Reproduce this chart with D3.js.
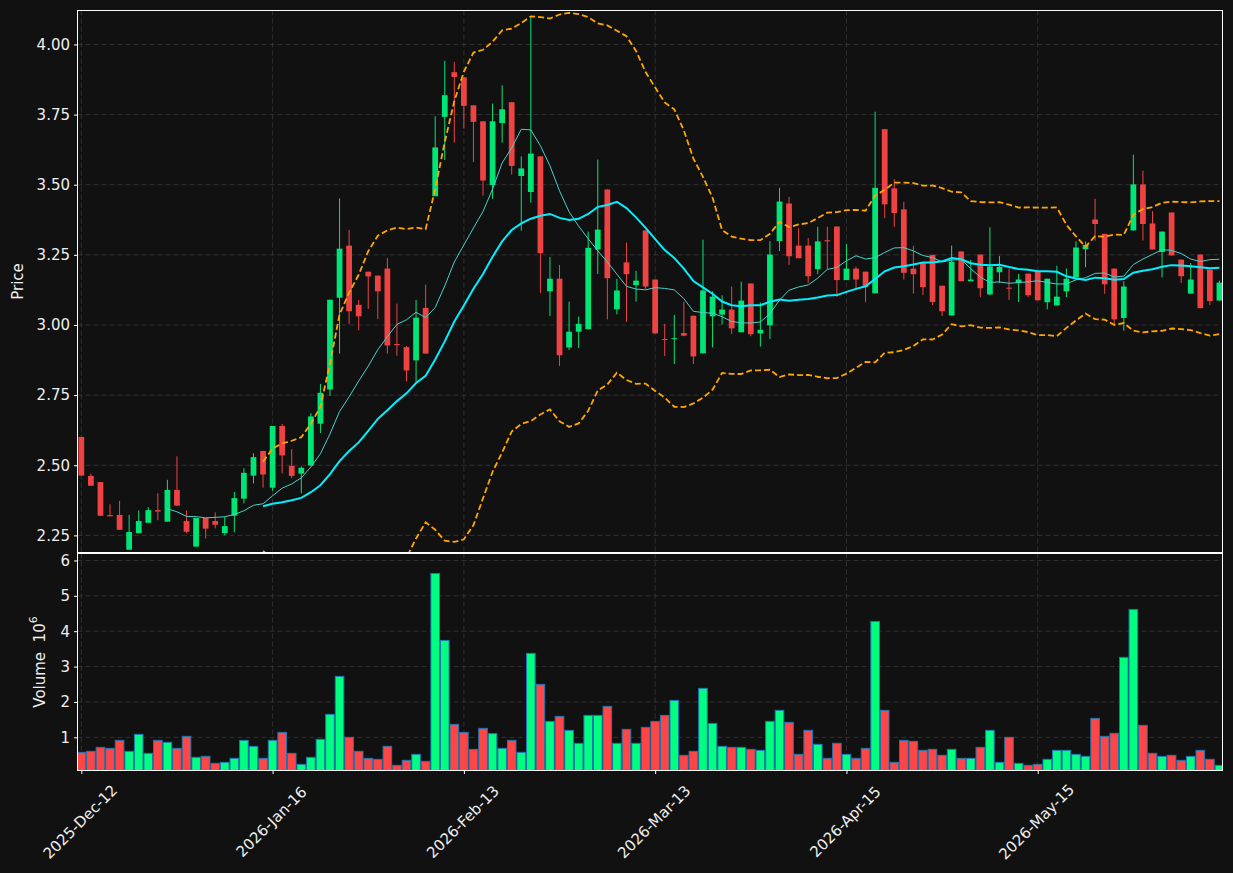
<!DOCTYPE html>
<html>
<head>
<meta charset="utf-8">
<script src="https://cdn.jsdelivr.net/npm/d3@7"></script>
<style>
  body { margin: 0; background: #111111; }
  svg { display: block; font-family: "DejaVu Sans", sans-serif; }
</style>
</head>
<body>
<div class="container"></div>
<script>
// OHLC + volume (volume in units of 10^6), one entry per trading day
const opens = [2.601,2.462,2.440,2.322,2.323,2.199,2.258,2.295,2.340,2.299,
  2.412,2.301,2.210,2.312,2.301,2.258,2.320,2.381,2.463,2.551,
  2.420,2.640,2.498,2.470,2.499,2.648,2.770,3.097,3.283,3.072,
  3.190,3.176,3.201,2.932,2.921,2.874,3.061,3.459,3.742,3.901,
  3.883,3.783,3.726,3.499,3.720,3.794,3.531,3.474,3.601,3.120,
  3.165,2.920,2.976,2.985,3.269,3.483,3.056,3.223,3.142,3.337,
  3.162,2.950,2.950,2.971,3.033,2.899,3.031,3.037,3.055,2.974,
  3.148,2.970,2.999,3.299,3.433,3.283,3.283,3.199,3.302,3.351,
  3.160,3.201,3.190,3.113,3.698,3.487,3.412,3.201,3.223,3.250,
  3.140,3.034,3.262,3.156,3.251,3.109,3.188,3.133,3.150,3.183,
  3.190,3.081,3.070,3.120,3.170,3.270,3.376,3.325,3.201,3.025,
  3.337,3.501,3.362,3.260,3.401,3.233,3.112,3.251,3.198,3.087];
const highs = [2.601,2.470,2.440,2.361,2.373,2.323,2.339,2.351,2.400,2.448,
  2.532,2.339,2.312,2.312,2.332,2.315,2.405,2.489,2.543,2.551,
  2.640,2.647,2.557,2.496,2.686,2.790,3.090,3.451,3.339,3.089,
  3.190,3.176,3.239,3.076,2.925,3.089,3.144,3.744,3.942,3.938,
  3.883,3.783,3.726,3.789,3.854,3.794,3.601,4.097,3.601,3.242,
  3.214,3.083,3.030,3.333,3.590,3.483,3.164,3.294,3.193,3.337,
  3.162,3.004,3.036,3.083,3.033,3.304,3.120,3.106,3.137,3.154,
  3.148,3.080,3.299,3.489,3.456,3.345,3.310,3.350,3.350,3.351,
  3.288,3.208,3.190,3.760,3.698,3.520,3.439,3.282,3.223,3.250,
  3.140,3.283,3.262,3.232,3.251,3.348,3.246,3.201,3.182,3.183,
  3.190,3.165,3.211,3.201,3.298,3.298,3.450,3.325,3.201,3.156,
  3.607,3.550,3.406,3.333,3.401,3.233,3.221,3.251,3.198,3.158];
const lows = [2.463,2.427,2.320,2.318,2.270,2.199,2.258,2.295,2.304,2.299,
  2.356,2.258,2.210,2.239,2.275,2.250,2.261,2.364,2.435,2.420,
  2.409,2.471,2.454,2.400,2.499,2.615,2.747,2.898,3.003,2.981,
  3.057,3.021,2.898,2.890,2.799,2.796,2.898,3.459,3.588,3.650,
  3.700,3.581,3.461,3.450,3.650,3.536,3.336,3.436,3.114,3.032,
  2.854,2.911,2.918,2.985,3.182,3.020,3.038,3.011,3.083,3.129,
  2.970,2.889,2.861,2.960,2.861,2.899,2.920,3.002,2.968,2.974,
  2.960,2.923,2.950,3.263,3.214,3.238,3.150,3.182,3.198,3.100,
  3.160,3.123,3.081,3.113,3.381,3.349,3.162,3.112,3.107,3.071,
  3.032,3.034,3.156,3.156,3.099,3.106,3.150,3.089,3.082,3.099,
  3.088,3.056,3.070,3.099,3.170,3.206,3.301,3.111,2.996,2.980,
  3.337,3.301,3.269,3.170,3.248,3.150,3.112,3.060,3.071,3.087];
const closes = [2.463,2.427,2.320,2.318,2.270,2.262,2.301,2.340,2.335,2.412,
  2.356,2.263,2.312,2.274,2.288,2.283,2.383,2.473,2.529,2.467,
  2.640,2.535,2.462,2.491,2.674,2.758,3.090,3.272,3.049,3.031,
  3.173,3.120,2.927,2.928,2.838,3.026,2.898,3.633,3.819,3.884,
  3.781,3.724,3.515,3.726,3.769,3.567,3.558,3.611,3.256,3.165,
  2.892,2.976,3.004,3.275,3.340,3.167,3.123,3.181,3.158,3.137,
  2.970,2.948,2.953,2.962,2.888,3.123,3.101,3.055,2.988,3.087,
  2.967,2.983,3.251,3.440,3.245,3.238,3.174,3.298,3.298,3.160,
  3.201,3.162,3.135,3.489,3.430,3.399,3.186,3.181,3.135,3.082,
  3.049,3.225,3.156,3.162,3.131,3.208,3.207,3.131,3.162,3.106,
  3.088,3.165,3.101,3.165,3.276,3.285,3.360,3.145,3.020,3.137,
  3.501,3.360,3.269,3.333,3.248,3.174,3.162,3.060,3.085,3.151];
const volumes = [0.576,0.605,0.717,0.689,0.915,0.605,1.085,0.548,0.915,0.859,
  0.689,1.028,0.435,0.463,0.266,0.294,0.407,0.915,0.746,0.407,
  0.915,1.141,0.548,0.237,0.435,0.944,1.650,2.723,1.000,0.605,
  0.407,0.379,0.746,0.209,0.350,0.520,0.322,5.633,3.740,1.367,
  1.141,0.661,1.254,1.104,0.689,0.915,0.576,3.373,2.497,1.452,
  1.593,1.198,0.831,1.621,1.621,1.876,0.831,1.226,0.831,1.282,
  1.452,1.621,2.045,0.492,0.605,2.384,1.395,0.746,0.717,0.717,
  0.661,0.633,1.452,1.763,1.424,0.520,1.198,0.802,0.407,0.831,
  0.520,0.407,0.689,4.277,1.763,0.294,0.915,0.887,0.633,0.661,
  0.492,0.661,0.407,0.407,0.717,1.198,0.294,1.000,0.266,0.209,
  0.237,0.379,0.633,0.633,0.520,0.463,1.537,1.028,1.113,3.260,
  4.616,1.339,0.548,0.463,0.492,0.350,0.463,0.633,0.379,0.209];

const tickIndex = [0, 20, 40, 60, 80, 100];
const tickLabels = ["2025-Dec-12", "2026-Jan-16", "2026-Feb-13", "2026-Mar-13", "2026-Apr-15", "2026-May-15"];
const priceTicks = [2.25, 2.50, 2.75, 3.00, 3.25, 3.50, 3.75, 4.00];
const volumeTicks = [1, 2, 3, 4, 5, 6];

const width = 1233, height = 873;
const left = 77.5, right = 1222.5;
const pTop = 10.5, pBottom = 552.5, vTop = 553.5, vBottom = 770.5;

const upCol = "#00e676", downCol = "#ef4343";
const volUp = "#00ff80", volDown = "#ff4646", volEdge = "#1f77b4";
const gridCol = "#3a3a3a", textCol = "#eeeeee";
const fs = 15;

const idx = d3.range(closes.length);

const x = d3.scaleLinear().domain([-0.4, 119.32]).range([left, right]);
const y = d3.scaleLinear().domain([2.189, 4.121]).range([pBottom, pTop]);
const yv = d3.scaleLinear()
  .domain([0.3 * d3.min(volumes), 1.1 * d3.max(volumes)])
  .range([vBottom, vTop]);
const step = x(1) - x(0);

// moving averages and bands from closes (population std)
function rolling(n, fn) {
  return closes.map((c, i) => i < n - 1 ? null : fn(closes.slice(i - n + 1, i + 1)));
}
const pstd = a => { const m = d3.mean(a); return Math.sqrt(d3.mean(a, v => (v - m) * (v - m))); };
const ma10 = rolling(10, d3.mean);
const ma20 = rolling(20, d3.mean);
const sd20 = rolling(20, pstd);
const upper = ma20.map((m, i) => m == null ? null : m + 2 * sd20[i]);
const lower = ma20.map((m, i) => m == null ? null : m - 2 * sd20[i]);

const svg = d3.select(".container").append("svg")
  .attr("width", width)
  .attr("height", height)
  .attr("viewBox", [0, 0, width, height]);

svg.append("rect").attr("width", width).attr("height", height).attr("fill", "#111111");

const defs = svg.append("defs");
defs.append("clipPath").attr("id", "clipP")
  .append("rect").attr("x", left).attr("y", pTop).attr("width", right - left).attr("height", pBottom - pTop);
defs.append("clipPath").attr("id", "clipV")
  .append("rect").attr("x", left).attr("y", vTop).attr("width", right - left).attr("height", vBottom - vTop);

// grids
const gp = svg.append("g").attr("stroke", gridCol).attr("stroke-width", 0.8).attr("stroke-dasharray", "5,3");
gp.append("g").call(g => g.selectAll("line").data(priceTicks).join("line")
  .attr("x1", left).attr("x2", right).attr("y1", d => y(d)).attr("y2", d => y(d)));
gp.append("g").call(g => g.selectAll("line").data(tickIndex).join("line")
  .attr("x1", d => x(d)).attr("x2", d => x(d)).attr("y1", pTop).attr("y2", pBottom));
gp.append("g").call(g => g.selectAll("line").data(volumeTicks).join("line")
  .attr("x1", left).attr("x2", right).attr("y1", d => yv(d)).attr("y2", d => yv(d)));
gp.append("g").call(g => g.selectAll("line").data(tickIndex).join("line")
  .attr("x1", d => x(d)).attr("x2", d => x(d)).attr("y1", vTop).attr("y2", vBottom));

// candles
const candles = svg.append("g").attr("clip-path", "url(#clipP)");
const bw = step * 0.6;
candles.selectAll("line").data(idx).join("line")
  .attr("x1", i => x(i)).attr("x2", i => x(i))
  .attr("y1", i => y(highs[i])).attr("y2", i => y(lows[i]))
  .attr("stroke", i => closes[i] >= opens[i] ? upCol : downCol)
  .attr("stroke-width", 1);
candles.selectAll("rect").data(idx).join("rect")
  .attr("x", i => x(i) - bw / 2)
  .attr("width", bw)
  .attr("y", i => y(Math.max(opens[i], closes[i])))
  .attr("height", i => Math.max(1, Math.abs(y(opens[i]) - y(closes[i]))))
  .attr("fill", i => closes[i] >= opens[i] ? upCol : downCol);

// overlays
const line = d3.line().defined(d => d[1] != null).x(d => x(d[0])).y(d => y(d[1]));
const lines = svg.append("g").attr("clip-path", "url(#clipP)").attr("fill", "none");
lines.append("path").attr("d", line(upper.map((v, i) => [i, v])))
  .attr("stroke", "#ffa500").attr("stroke-width", 1.8).attr("stroke-dasharray", "6,3");
lines.append("path").attr("d", line(lower.map((v, i) => [i, v])))
  .attr("stroke", "#ffa500").attr("stroke-width", 1.8).attr("stroke-dasharray", "6,3");
lines.append("path").attr("d", line(ma10.map((v, i) => [i, v])))
  .attr("stroke", "#48d1cc").attr("stroke-width", 1);
lines.append("path").attr("d", line(ma20.map((v, i) => [i, v])))
  .attr("stroke", "#00f0ff").attr("stroke-width", 2);

// volume
const vbw = step * 0.9;
svg.append("g").attr("clip-path", "url(#clipV)")
  .selectAll("rect").data(idx).join("rect")
  .attr("x", i => x(i) - vbw / 2)
  .attr("width", vbw)
  .attr("y", i => yv(volumes[i]))
  .attr("height", i => yv.range()[0] - yv(volumes[i]) + 2)
  .attr("fill", i => closes[i] >= opens[i] ? volUp : volDown)
  .attr("stroke", volEdge)
  .attr("stroke-width", 1);

// frames
[[pTop, pBottom], [vTop, vBottom]].forEach(([t, b]) => {
  svg.append("rect").attr("x", left).attr("y", t).attr("width", right - left).attr("height", b - t)
    .attr("fill", "none").attr("stroke", "#ffffff").attr("stroke-width", 1);
});

// axes
const yAxis = svg.append("g").attr("transform", `translate(${left},0)`)
  .call(d3.axisLeft(y).tickValues(priceTicks).tickFormat(d3.format(".2f")).tickSize(3.5).tickPadding(4));
const vAxis = svg.append("g").attr("transform", `translate(${left},0)`)
  .call(d3.axisLeft(yv).tickValues(volumeTicks).tickFormat(d3.format("d")).tickSize(3.5).tickPadding(4));
const xAxis = svg.append("g").attr("transform", `translate(0,${vBottom})`)
  .call(d3.axisBottom(x).tickValues(tickIndex).tickFormat("").tickSize(3.5));
[yAxis, vAxis, xAxis].forEach(g => {
  g.select(".domain").remove();
  g.selectAll(".tick line").attr("stroke", "#ffffff");
  g.selectAll("text").attr("fill", textCol).attr("font-size", fs)
    .attr("font-family", "DejaVu Sans, sans-serif");
});

svg.append("g").selectAll("text").data(tickIndex).join("text")
  .attr("transform", d => `translate(${x(d) - 1},822) rotate(-45)`)
  .attr("text-anchor", "middle")
  .attr("dominant-baseline", "central")
  .attr("fill", textCol).attr("font-size", fs)
  .text((d, i) => tickLabels[i]);

svg.append("text")
  .attr("transform", `translate(18,${(pTop + pBottom) / 2}) rotate(-90)`)
  .attr("text-anchor", "middle").attr("dominant-baseline", "central")
  .attr("fill", textCol).attr("font-size", fs)
  .text("Price");

const vl = svg.append("text")
  .attr("transform", `translate(40,${(vTop + vBottom) / 2}) rotate(-90)`)
  .attr("text-anchor", "middle").attr("dominant-baseline", "central")
  .attr("fill", textCol).attr("font-size", fs);
vl.append("tspan").text("Volume\u00a0\u00a010");
vl.append("tspan").attr("font-size", 11).attr("dy", -7).text("6");
</script>
</body>
</html>
